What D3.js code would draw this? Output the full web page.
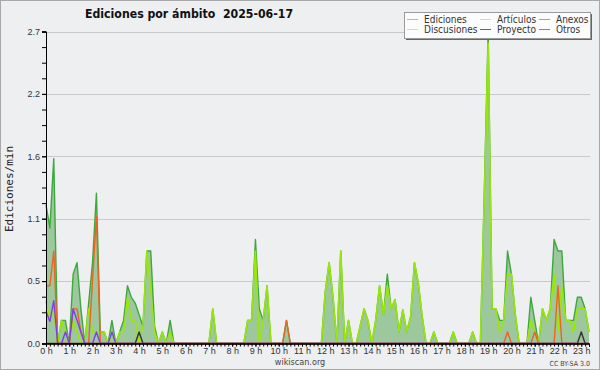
<!DOCTYPE html>
<html>
<head>
<meta charset="utf-8">
<script src="https://cdn.jsdelivr.net/npm/d3@7"></script>
<style>
  body { margin: 0; background: #fff; }
  svg { display: block; font-family: "DejaVu Sans Condensed", "DejaVu Sans", sans-serif; }
</style>
</head>
<body>
<div id="chart"></div>
<script>
// edits per minute, one value per 10-minute slot (6 per hour), 00:00 .. 23:20
const ediciones = [
  1.2, 1.0, 1.6, 0, 0.2, 0.2,      // 0 h
  0, 0.6, 0.7, 0.3, 0, 0.35,       // 1 h
  0.7, 1.3, 0.1, 0.1, 0, 0.2,      // 2 h
  0, 0.1, 0.2, 0.5, 0.4, 0.35,     // 3 h
  0.25, 0.15, 0.8, 0.8, 0.15, 0,   // 4 h
  0.1, 0, 0.2, 0, 0, 0,            // 5 h
  0, 0, 0, 0, 0, 0,                // 6 h
  0, 0.3, 0, 0, 0, 0,              // 7 h
  0, 0, 0, 0, 0.2, 0.2,            // 8 h
  0.9, 0.3, 0.2, 0.5, 0, 0,        // 9 h
  0, 0, 0.2, 0, 0, 0,              // 10 h
  0, 0, 0, 0, 0, 0,                // 11 h
  0.45, 0.7, 0.4, 0, 0.8, 0,       // 12 h
  0.2, 0, 0, 0.15, 0.3, 0.2,       // 13 h
  0, 0.2, 0.5, 0.25, 0.6, 0.3,     // 14 h
  0.38, 0.1, 0.29, 0.1, 0.23, 0.7, // 15 h
  0.52, 0.23, 0, 0, 0.1, 0,        // 16 h
  0, 0, 0, 0.1, 0, 0,              // 17 h
  0, 0, 0.1, 0, 0, 1.3,            // 18 h
  2.7, 0.3, 0.3, 0.2, 0.2, 0.8,    // 19 h
  0.6, 0.25, 0, 0, 0, 0.4,         // 20 h
  0.2, 0, 0.3, 0.2, 0.3, 0.9,      // 21 h
  0.8, 0.8, 0.2, 0.2, 0.2, 0.4,    // 22 h
  0.4, 0.3, 0.1                    // 23 h
];

const articulos = [
  0.37, 0.2, 0.3, 0, 0.2, 0.1,
  0, 0.2, 0.1, 0, 0, 0.3,
  0.1, 0.1, 0.1, 0.1, 0, 0.1,
  0, 0.1, 0.1, 0.4, 0.2, 0.2,
  0, 0.15, 0.8, 0.45, 0.1, 0,
  0.1, 0, 0.1, 0, 0, 0,
  0, 0, 0, 0, 0, 0,
  0, 0.3, 0, 0, 0, 0,
  0, 0, 0, 0, 0.2, 0.2,
  0.8, 0, 0.2, 0.5, 0, 0,
  0, 0, 0, 0, 0, 0,
  0, 0, 0, 0, 0, 0,
  0.45, 0.7, 0.4, 0, 0.8, 0,
  0.2, 0, 0, 0.15, 0.3, 0.2,
  0, 0.2, 0.5, 0.25, 0.5, 0.3,
  0.38, 0.1, 0.29, 0.1, 0.23, 0.7,
  0.52, 0.23, 0, 0, 0.1, 0,
  0, 0, 0, 0.1, 0, 0,
  0, 0, 0.1, 0, 0, 1.25,
  2.6, 0.3, 0.3, 0.1, 0.2, 0.6,
  0.6, 0.25, 0, 0, 0, 0.2,
  0.1, 0, 0.3, 0.2, 0.3, 0.6,
  0.1, 0.5, 0.2, 0.2, 0.1, 0.3,
  0.3, 0.3, 0.1
];

// sparse series: [slot, value], every other slot is 0
const anexos = [[0, 0.5], [1, 0.5], [2, 0.8], [7, 0.3], [8, 0.3], [9, 0.1], [12, 0.55], [13, 1.1],
                [62, 0.2], [119, 0.1], [126, 0.1], [132, 0.5]];
const discusiones = [];
const proyecto = [[24, 0.1], [138, 0.1]];
const otros = [[0, 0.28], [1, 0.19], [2, 0.37], [5, 0.1], [7, 0.3], [8, 0.2], [9, 0.1], [13, 0.1], [17, 0.1]];

const yTicks = [0, 0.54, 1.08, 1.62, 2.16, 2.7];
const hourLabels = d3.range(24).map(h => h + " h");

const seriesColors = {
  "Ediciones": "#3ea83e", "Artículos": "#9ae60c", "Anexos": "#ee6224",
  "Discusiones": "#f5cc3a", "Proyecto": "#333333", "Otros": "#7f3fe6"
};
const legendColors = {
  "Ediciones": "#8fd08f", "Artículos": "#c8ee70", "Anexos": "#ef8a60",
  "Discusiones": "#f8d860", "Proyecto": "#666666", "Otros": "#9a6aee"
};

const nSlots = ediciones.length;
function expand(pairs) {
  const m = new Map(pairs);
  return d3.range(nSlots).map(i => m.get(i) || 0);
}

const data = {
  "Ediciones": ediciones,
  "Artículos": articulos,
  "Anexos": expand(anexos),
  "Discusiones": expand(discusiones),
  "Proyecto": expand(proyecto),
  "Otros": expand(otros)
};

const W = 600, H = 370;
const svg = d3.select("#chart").append("svg").attr("width", W).attr("height", H);

svg.append("rect").attr("x", 0.5).attr("y", 0.5).attr("width", W - 1).attr("height", H - 1)
  .attr("fill", "#eeeff0").attr("stroke", "#a8a8a8");

const x = d3.scaleLinear().domain([0, (nSlots - 1) / 6]).range([46, 589]);
const y = d3.scaleLinear().domain([0, 2.7]).range([343.5, 31.5]);

// grid
svg.append("g").selectAll("line").data(yTicks.slice(1)).join("line")
  .attr("x1", 46).attr("x2", 590)
  .attr("y1", d => Math.round(y(d)) + 0.5).attr("y2", d => Math.round(y(d)) + 0.5)
  .attr("stroke", "#c9c9c9");

// area + lines
const hrs = i => i / 6;
const area = d3.area().x((d, i) => x(hrs(i))).y0(y(0)).y1(d => y(d));
const line = d3.line().x((d, i) => x(hrs(i))).y(d => y(d));

svg.append("path").datum(data["Ediciones"]).attr("d", area).attr("fill", "#9dc89d");

["Ediciones", "Artículos", "Discusiones", "Anexos", "Proyecto", "Otros"].forEach(name => {
  svg.append("path").datum(data[name]).attr("d", line)
    .attr("fill", "none").attr("stroke", seriesColors[name])
    .attr("stroke-width", name === "Artículos" ? 1.6 : 1.4)
    .attr("stroke-linejoin", "round");
});

// axes
const yMinor = d3.range(0, 21).map(k => k * 0.135);
svg.append("g").attr("transform", "translate(46,0)")
  .call(d3.axisLeft(y).tickValues(yMinor).tickSize(4).tickFormat(""));
svg.append("g").attr("transform", "translate(46,0)")
  .call(d3.axisLeft(y).tickValues(yTicks).tickSize(4).tickPadding(2).tickFormat(d3.format(".1f")))
  .call(g => g.selectAll("text").attr("font-size", 9).attr("fill", "#333"));

const xTicks = d3.range(0, nSlots).map(i => i / 6);
svg.append("g").attr("transform", `translate(0,${y(0)})`)
  .call(d3.axisBottom(x).tickValues(xTicks).tickSize(3).tickFormat(""));
svg.append("g").attr("transform", `translate(0,${y(0)})`)
  .call(d3.axisBottom(x).tickValues(d3.range(24)).tickSize(3).tickPadding(1).tickFormat((d, i) => hourLabels[i]))
  .call(g => g.selectAll("text").attr("font-size", 9).attr("fill", "#333"));
svg.selectAll(".domain").attr("stroke", "#000");
svg.selectAll(".tick line").attr("stroke", "#000");

// y label
svg.append("text").attr("transform", "translate(13,189) rotate(-90)")
  .attr("text-anchor", "middle").attr("font-family", "DejaVu Sans Mono, monospace")
  .attr("font-size", 11).attr("fill", "#222").text("Ediciones/min");

// title
svg.append("text").attr("x", 85).attr("y", 18).attr("font-size", 12.2).attr("font-weight", "bold")
  .attr("fill", "#111").attr("xml:space", "preserve").text("Ediciones por ámbito  2025-06-17");

// footer
svg.append("text").attr("x", 300).attr("y", 365).attr("text-anchor", "middle")
  .attr("font-size", 9).attr("fill", "#444").text("wikiscan.org");
svg.append("text").attr("x", 590).attr("y", 366).attr("text-anchor", "end")
  .attr("font-size", 7).attr("fill", "#444").text("CC BY-SA 3.0");

// legend
const lg = svg.append("g");
lg.append("rect").attr("x", 406).attr("y", 14).attr("width", 186).attr("height", 26).attr("fill", "#666");
lg.append("rect").attr("x", 404.5).attr("y", 12.5).attr("width", 186).attr("height", 26)
  .attr("fill", "#fcfcfc").attr("stroke", "#9a9a9a");
const colX = [407, 480, 539];
const rowY = [19.5, 29.5];
const order = ["Ediciones", "Artículos", "Anexos", "Discusiones", "Proyecto", "Otros"];
order.forEach((name, k) => {
  const cx = colX[k % 3], cy = rowY[Math.floor(k / 3)];
  lg.append("line").attr("x1", cx).attr("x2", cx + 11).attr("y1", cy).attr("y2", cy)
    .attr("stroke", legendColors[name]).attr("stroke-width", 1);
  lg.append("text").attr("x", cx + 17).attr("y", cy + 3.5).attr("font-size", 10)
    .attr("fill", "#333").text(name);
});
</script>
</body>
</html>
